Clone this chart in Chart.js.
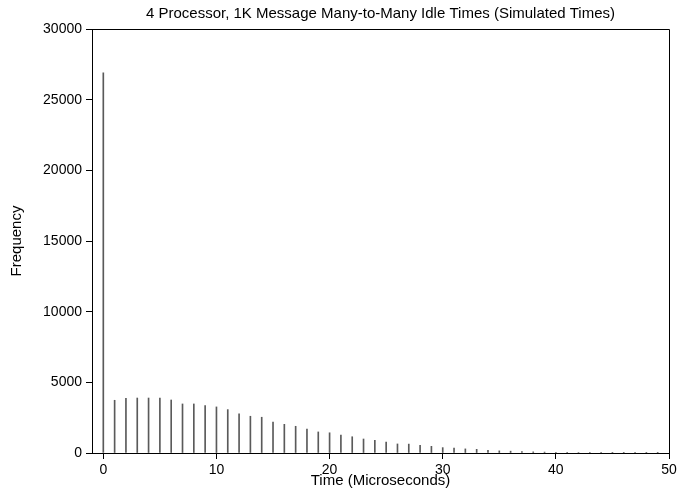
<!DOCTYPE html>
<html>
<head>
<meta charset="utf-8">
<script src="https://cdn.jsdelivr.net/npm/chart.js@4/dist/chart.umd.min.js"></script>
<style>
  body { margin: 0; background: #fff; }
  #idle_chart { display: block; }
</style>
</head>
<body>
<canvas id="idle_chart" width="692" height="491"></canvas>
<script>
// idle time bins (microseconds) and how often each occurred
var times = [];
for (var t = 0; t < 50; t++) times.push(t);

var freq = [26900, 3730, 3870, 3890, 3890, 3890, 3750, 3470, 3470, 3350,
            3260, 3070, 2780, 2600, 2530, 2190, 2030, 1890, 1700, 1490,
            1430, 1270, 1150, 990, 900, 780, 640, 630, 540, 470,
            380, 340, 290, 260, 190, 150, 130, 100, 80, 65,
            55, 45, 35, 30, 25, 20, 15, 12, 10, 8];

var xTicks = [0, 10, 20, 30, 40, 50];
var yTicks = [0, 5000, 10000, 15000, 20000, 25000, 30000];

var family = 'Liberation Sans, Arial, sans-serif';
var font = { family: family, size: 14 };
var titleFont = { family: family, size: 15, weight: 'normal' };

// top and right edges of the plot box
var frame = {
    id: 'frame',
    afterDraw: function (chart) {
        var a = chart.chartArea, ctx = chart.ctx;
        ctx.save();
        ctx.strokeStyle = '#000';
        ctx.lineWidth = 1;
        ctx.beginPath();
        ctx.moveTo(Math.round(a.left) + 0.5, Math.round(a.top) + 0.5);
        ctx.lineTo(Math.round(a.right) + 0.5, Math.round(a.top) + 0.5);
        ctx.lineTo(Math.round(a.right) + 0.5, Math.round(a.bottom) + 0.5);
        ctx.stroke();
        ctx.restore();
    }
};

function plain(v) { return String(v); }

function InitializeGraph() {
    var ctx = document.getElementById('idle_chart');
    var points = times.map(function (t, i) { return { x: t, y: freq[i] }; });

    new Chart(ctx, {
        type: 'bar',
        data: {
            datasets: [{
                data: points,
                backgroundColor: '#5a5a5a',
                borderWidth: 0,
                barThickness: 1,
                grouped: false
            }]
        },
        options: {
            responsive: false,
            animation: false,
            layout: { padding: { right: 23 } },
            plugins: {
                legend: { display: false },
                tooltip: { enabled: false },
                title: {
                    display: true,
                    fullSize: false,
                    text: '4 Processor, 1K Message Many-to-Many Idle Times (Simulated Times)',
                    color: '#000',
                    font: titleFont,
                    padding: { top: 5, bottom: 6 }
                }
            },
            scales: {
                x: {
                    type: 'linear',
                    min: -1,
                    max: 50,
                    offset: false,
                    afterBuildTicks: function (s) {
                        s.ticks = xTicks.map(function (v) { return { value: v }; });
                    },
                    afterFit: function (s) { s.height = 38; },
                    grid: { offset: false, drawOnChartArea: false, drawTicks: true, tickLength: 6, color: '#000' },
                    border: { display: true, color: '#000', width: 1 },
                    ticks: { color: '#000', font: font, padding: 3, maxRotation: 0, autoSkip: false, callback: plain },
                    title: {
                        display: true,
                        text: 'Time (Microseconds)',
                        color: '#000',
                        font: titleFont,
                        padding: { top: 0, bottom: 1 }
                    }
                },
                y: {
                    min: 0,
                    max: 30000,
                    afterBuildTicks: function (s) {
                        s.ticks = yTicks.map(function (v) { return { value: v }; });
                    },
                    afterFit: function (s) { s.width = 92; },
                    grid: { drawOnChartArea: false, drawTicks: true, tickLength: 6, color: '#000' },
                    border: { display: true, color: '#000', width: 1 },
                    ticks: { color: '#000', font: font, padding: 4, callback: plain },
                    title: {
                        display: true,
                        text: 'Frequency',
                        color: '#000',
                        font: titleFont,
                        padding: { top: 8, bottom: 0 }
                    }
                }
            }
        },
        plugins: [frame]
    });
}

InitializeGraph();
</script>
</body>
</html>
